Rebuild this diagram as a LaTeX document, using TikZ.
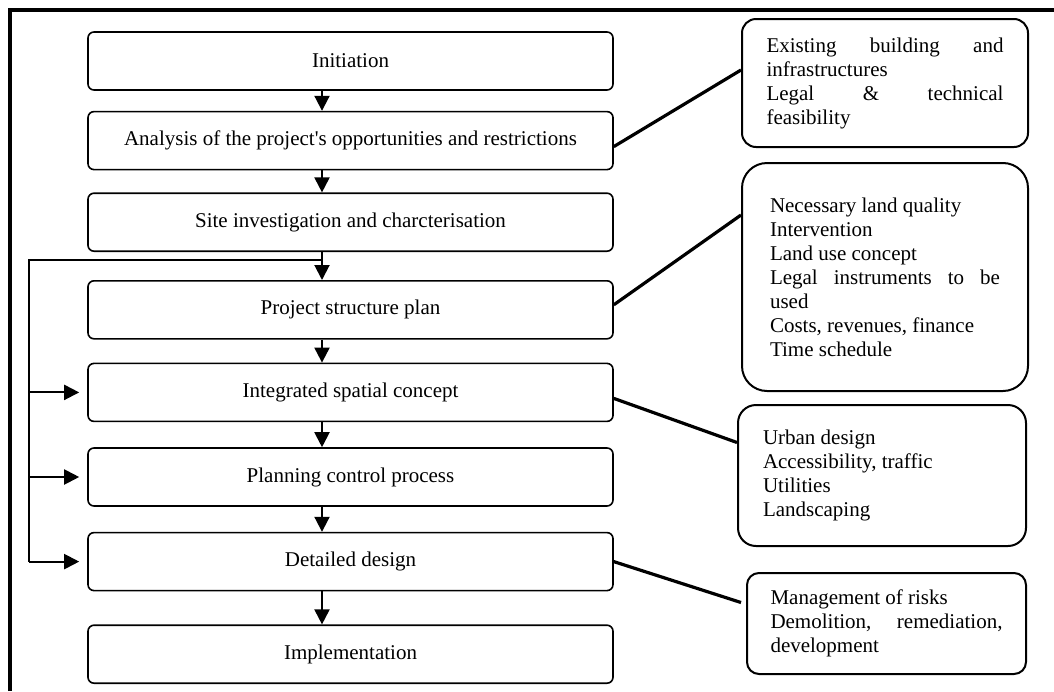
\documentclass[tikz,border=0pt]{standalone}
\usepackage{fontspec}
\setmainfont{Liberation Serif}
\usetikzlibrary{positioning,arrows.meta}

\begin{document}
\begin{tikzpicture}[x=0.5pt,y=-0.5pt,font=\fontsize{10.5}{12}\selectfont,
    stage/.style={draw,line width=0.8pt,rounded corners=3pt,minimum width=262.5pt,minimum height=29pt},
    note/.style={draw,line width=1pt,align=justify},
    flow/.style={line width=1pt,-{Triangle[length=7.5pt,width=7.5pt]}},
    link/.style={line width=1.6pt}]
  \useasboundingbox (0,0) rectangle (1054,691);
  \draw[line width=1.6pt] (10,691) -- (10,10) -- (1054,10);

  % main steps
  \node[stage] (init) at (350.5,61) {Initiation};
  \node[stage,below=10pt of init] (anal) {Analysis of the project\textquotesingle s opportunities and restrictions};
  \node[stage,below=11pt of anal] (site) {Site investigation and charcterisation};
  \node[stage,below=14pt of site] (proj) {Project structure plan};
  \node[stage,below=11.5pt of proj] (integ) {Integrated spatial concept};
  \node[stage,below=12.5pt of integ] (plan) {Planning control process};
  \node[stage,below=12.5pt of plan] (det) {Detailed design};
  \node[stage,below=16.5pt of det] (impl) {Implementation};

  % notes
  \node[note,minimum width=143pt,text width=118.5pt,minimum height=64pt,rounded corners=7pt] (exist) at (885,83)
    {Existing building and\linebreak infrastructures\\Legal \& technical\linebreak feasibility};
  \node[note,minimum width=143pt,text width=115pt,minimum height=114pt,rounded corners=12.5pt] (need) at (885,277)
    {Necessary land quality\\Intervention\\Land use concept\\Legal instruments to be\linebreak used\\Costs, revenues, finance\\Time schedule\par\vspace{7pt}};
  \node[note,minimum width=144pt,text width=119pt,minimum height=70.5pt,rounded corners=9pt] (urban) at (882,475.5)
    {Urban design\\Accessibility, traffic\\Utilities\\Landscaping};
  \node[note,minimum width=139.5pt,text width=116pt,minimum height=50.5pt,rounded corners=6pt] (risk) at (886.5,623.5)
    {Management of risks\\Demolition, remediation,\linebreak development};

  % flow down the steps
  \coordinate (spine) at (322,0);
  \foreach \a/\b in {init/anal,anal/site,site/proj,proj/integ,integ/plan,plan/det,det/impl}
    \draw[flow] (\a.south -| spine) -- (\b.north -| spine);

  % loop back
  \coordinate (j) at (322,260);
  \coordinate (fb) at (29,260);
  \draw[flow,-] (j) -- (fb) -- (fb |- det.west);
  \foreach \n in {integ,plan,det}
    \draw[flow,shorten >=4pt] (fb |- \n.west) -- (\n.west);

  % links to notes
  \draw[link] ([yshift=-3pt]anal.east) -- ([yshift=6.5pt]exist.west);
  \draw[link] ([yshift=2.5pt]proj.east) -- ([yshift=31pt]need.west);
  \draw[link] ([yshift=-3pt]integ.east) -- ([yshift=16.5pt]urban.west);
  \draw[link] (det.east) -- ([yshift=10.5pt,xshift=-2.5pt]risk.west);
\end{tikzpicture}
\end{document}
